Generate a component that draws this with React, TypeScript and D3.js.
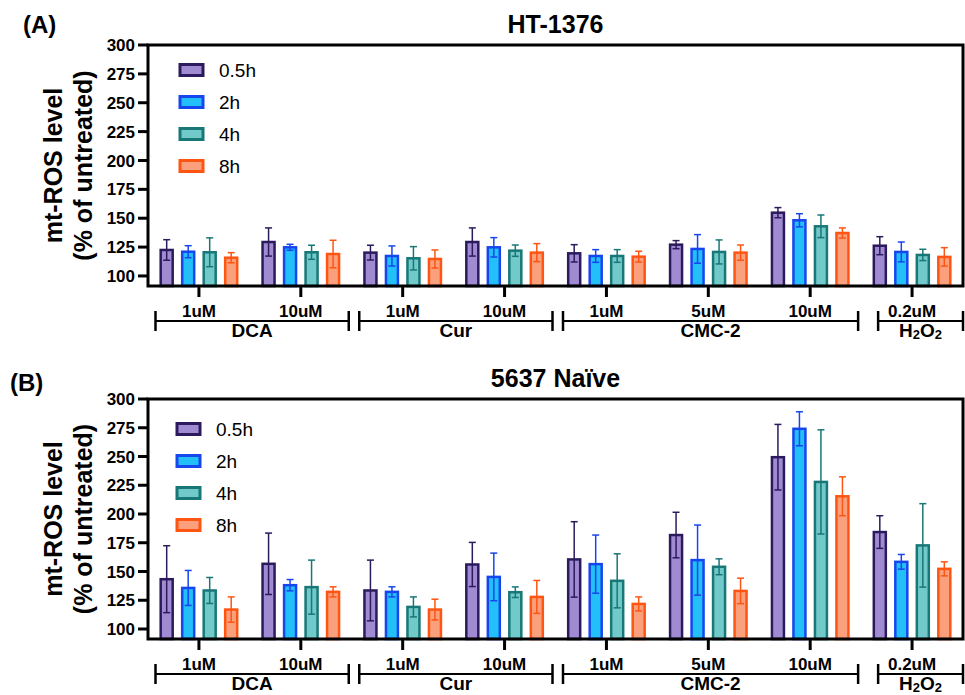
import React from "react";
import * as d3 from "d3";

// groups along the x axis (dose within drug)
const doses = ["1uM", "10uM", "1uM", "10uM", "1uM", "5uM", "10uM", "0.2uM"];
const drugNames = ["DCA", "Cur", "CMC-2", "H2O2"];
const drugSpans = [[0, 1], [2, 3], [4, 6], [7, 7]];
const series = ["0.5h", "2h", "4h", "8h"];
const yTicks = [100, 125, 150, 175, 200, 225, 250, 275, 300];

// HT-1376 : mean and SD per time point
const ht05Mean = [122.5, 129.4, 120.2, 129.4, 119.6, 127.1, 154.8, 126.2];
const ht05Sd = [8.9, 12.2, 6.4, 12.2, 7.5, 3.5, 4.4, 7.8];
const ht2Mean = [121.0, 124.8, 117.3, 124.8, 117.3, 123.4, 148.2, 120.8];
const ht2Sd = [5.2, 2.6, 8.7, 8.4, 5.5, 12.4, 5.7, 8.6];
const ht4Mean = [120.5, 120.5, 115.3, 121.9, 117.3, 120.8, 143.0, 118.2];
const ht4Sd = [12.5, 6.1, 10.1, 4.9, 5.5, 10.4, 9.8, 4.9];
const ht8Mean = [115.8, 119.0, 114.7, 120.2, 116.7, 120.2, 137.2, 116.5];
const ht8Sd = [4.4, 11.9, 7.8, 7.8, 4.7, 6.6, 4.4, 8.0];

// 5637 naive
const nv05Mean = [143.3, 156.7, 133.5, 156.1, 160.5, 181.7, 249.4, 184.3];
const nv05Sd = [29.1, 26.7, 26.4, 19.2, 32.8, 19.8, 28.5, 14.2];
const nv2Mean = [135.7, 138.1, 132.3, 145.3, 156.4, 159.9, 274.1, 158.4];
const nv2Sd = [15.2, 4.9, 4.4, 20.7, 25.3, 30.5, 14.8, 6.4];
const nv4Mean = [133.5, 136.4, 119.2, 132.0, 141.9, 154.1, 227.9, 172.7];
const nv4Sd = [11.3, 23.5, 8.7, 4.6, 23.5, 6.9, 45.3, 36.3];
const nv8Mean = [116.9, 132.3, 116.9, 127.9, 121.8, 133.1, 215.4, 152.3];
const nv8Sd = [11.0, 4.4, 9.0, 14.3, 6.1, 11.1, 16.9, 6.1];

const fills = ["#a08bd2", "#22bff8", "#72c9c9", "#fba07c"];
const strokes = ["#2b1b5c", "#1746ee", "#187777", "#ff5512"];

const FONT = "'Liberation Sans', Arial, Helvetica, sans-serif";

type PanelProps = {
  label: string;
  labelX: number;
  labelY: number;
  title: string;
  top: number;
  bottom: number;
  means: number[][];
  sds: number[][];
  legendX: number;
  legendTop: number;
};

const LEFT = 148;
const RIGHT = 963;

function Panel({ label, labelX, labelY, title, top, bottom, means, sds, legendX, legendTop }: PanelProps) {
  const x = d3.scaleBand<number>().domain(d3.range(doses.length)).range([LEFT, RIGHT]);
  const step = x.step();
  const xc = (i: number) => (x(i) as number) + x.bandwidth() / 2;
  const xs = d3.scaleBand<string>().domain(series).range([-43, 43]);
  const barW = 12;
  const y = d3.scaleLinear().domain([91.3, 300]).range([bottom, top]);

  return (
    <g fontFamily={FONT}>
      <text x={labelX} y={labelY} fontSize={24} fontWeight="bold">{label}</text>
      <text x={(LEFT + RIGHT) / 2} y={top - 12} fontSize={25} fontWeight="bold" textAnchor="middle">
        {title}
      </text>

      {/* y axis title */}
      <g transform={`translate(62,${(top + bottom) / 2}) rotate(-90)`}>
        <text textAnchor="middle" fontSize={25} fontWeight="bold">mt-ROS level</text>
        <text y={30} textAnchor="middle" fontSize={25} fontWeight="bold">(% of untreated)</text>
      </g>

      {/* bars */}
      {series.map((s, si) =>
        doses.map((_, gi) => {
          const m = means[si][gi];
          const sd = sds[si][gi];
          const cx = xc(gi) + (xs(s) as number) + xs.bandwidth() / 2;
          return (
            <g key={`${s}-${gi}`}>
              <rect
                x={cx - barW / 2}
                y={y(m)}
                width={barW}
                height={y.range()[0] - y(m)}
                fill={fills[si]}
                stroke={strokes[si]}
                strokeWidth={2.5}
              />
              <g stroke={strokes[si]} strokeWidth={1.5}>
                <line x1={cx} x2={cx} y1={y(m - sd)} y2={y(m + sd)} />
                <line x1={cx - 3.5} x2={cx + 3.5} y1={y(m + sd)} y2={y(m + sd)} />
                <line x1={cx - 3.5} x2={cx + 3.5} y1={y(m - sd)} y2={y(m - sd)} />
              </g>
            </g>
          );
        })
      )}

      {/* frame */}
      <rect x={LEFT} y={top} width={RIGHT - LEFT} height={bottom - top} fill="none" stroke="#000" strokeWidth={3} />

      {/* y ticks */}
      {yTicks.map((t) => (
        <g key={t} transform={`translate(${LEFT},${y(t)})`}>
          <line x1={-10} x2={0} stroke="#000" strokeWidth={3} />
          <text x={-13} dy="0.36em" textAnchor="end" fontSize={17} fontWeight="bold">{t}</text>
        </g>
      ))}

      {/* x ticks + dose labels */}
      {doses.map((d, gi) => (
        <g key={gi} transform={`translate(${xc(gi)},${bottom})`}>
          <line y1={0} y2={11} stroke="#000" strokeWidth={3} />
          <text y={31} textAnchor="middle" fontSize={17} fontWeight="bold">{d}</text>
        </g>
      ))}

      {/* drug brackets */}
      {drugSpans.map(([a, b], di) => {
        const x0 = xc(a) - step / 2 + (di === 3 ? 17 : 7.5);
        const x1 = di === 3 ? RIGHT : xc(b) + step / 2 - 3;
        const ly = bottom + 35;
        return (
          <g key={di} stroke="#000">
            <line x1={x0} x2={x1} y1={ly} y2={ly} strokeWidth={2} />
            <line x1={x0} x2={x0} y1={ly - 10} y2={ly + 10} strokeWidth={2.5} />
            <line x1={x1} x2={x1} y1={ly - 10} y2={ly + 10} strokeWidth={2.5} />
            <text
              x={(x0 + x1) / 2}
              y={bottom + 51}
              textAnchor="middle"
              fontSize={19}
              fontWeight="bold"
              stroke="none"
            >
              {drugNames[di] === "H2O2" ? (
                <>
                  H<tspan fontSize={13} dy={2}>2</tspan>
                  <tspan dy={-2}>O</tspan>
                  <tspan fontSize={13} dy={2}>2</tspan>
                </>
              ) : (
                drugNames[di]
              )}
            </text>
          </g>
        );
      })}

      {/* legend */}
      {series.map((s, si) => (
        <g key={s} transform={`translate(${legendX},${legendTop + si * 32})`}>
          <rect x={0} y={-5.5} width={23} height={11} fill={fills[si]} stroke={strokes[si]} strokeWidth={3} />
          <text x={39} dy="0.36em" fontSize={19}>{s}</text>
        </g>
      ))}
    </g>
  );
}

export default function App() {
  return (
    <div style={{ position: "absolute", left: 0, top: 0 }}>
      <svg width={965} height={695} style={{ display: "block", background: "#fff" }}>
        <Panel
          label="(A)"
          labelX={23}
          labelY={33}
          title="HT-1376"
          top={45}
          bottom={286}
          means={[ht05Mean, ht2Mean, ht4Mean, ht8Mean]}
          sds={[ht05Sd, ht2Sd, ht4Sd, ht8Sd]}
          legendX={180}
          legendTop={70}
        />
        <Panel
          label="(B)"
          labelX={10}
          labelY={391}
          title="5637 Naïve"
          top={399}
          bottom={639}
          means={[nv05Mean, nv2Mean, nv4Mean, nv8Mean]}
          sds={[nv05Sd, nv2Sd, nv4Sd, nv8Sd]}
          legendX={177}
          legendTop={429}
        />
      </svg>
    </div>
  );
}
